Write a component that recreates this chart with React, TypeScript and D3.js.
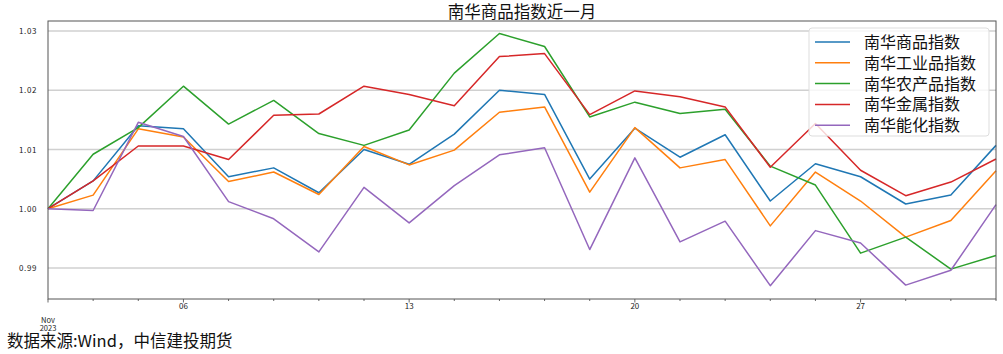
import React, { useEffect, useRef } from 'react';
import * as d3 from 'd3';

// business days of Nov 2023
const dates = [
  '2023-11-01', '2023-11-02', '2023-11-03', '2023-11-06', '2023-11-07', '2023-11-08',
  '2023-11-09', '2023-11-10', '2023-11-13', '2023-11-14', '2023-11-15', '2023-11-16',
  '2023-11-17', '2023-11-20', '2023-11-21', '2023-11-22', '2023-11-23', '2023-11-24',
  '2023-11-27', '2023-11-28', '2023-11-29', '2023-11-30',
];

const seriesNames = ['南华商品指数', '南华工业品指数', '南华农产品指数', '南华金属指数', '南华能化指数'];
const colors = ['#1f77b4', '#ff7f0e', '#2ca02c', '#d62728', '#9467bd'];

const commodity = [1.0, 1.0047, 1.014, 1.0135, 1.0054, 1.0069, 1.0027, 1.01, 1.0075, 1.0126, 1.02, 1.0193,
  1.005, 1.0136, 1.0087, 1.0125, 1.0013, 1.0076, 1.0054, 1.0008, 1.0023, 1.0107];
const industrial = [1.0, 1.0023, 1.0135, 1.0121, 1.0046, 1.0062, 1.0024, 1.0105, 1.0074, 1.0099, 1.0163, 1.0172,
  1.0028, 1.0137, 1.0069, 1.0083, 0.9971, 1.0062, 1.0013, 0.9952, 0.998, 1.0064];
const agri = [1.0, 1.0092, 1.0137, 1.0207, 1.0143, 1.0183, 1.0127, 1.0107, 1.0133, 1.0229, 1.0296, 1.0274,
  1.0155, 1.018, 1.0161, 1.0168, 1.0072, 1.004, 0.9925, 0.9952, 0.9898, 0.9921];
const metals = [1.0, 1.0047, 1.0106, 1.0106, 1.0083, 1.0158, 1.016, 1.0207, 1.0193, 1.0174, 1.0257, 1.0262,
  1.0159, 1.0199, 1.0189, 1.0172, 1.007, 1.0144, 1.0065, 1.0022, 1.0045, 1.0084];
const energyChem = [1.0, 0.9997, 1.0146, 1.0122, 1.0012, 0.9983, 0.9927, 1.0036, 0.9976, 1.0039, 1.0091, 1.0103,
  0.9931, 1.0086, 0.9944, 0.9979, 0.987, 0.9963, 0.9942, 0.9871, 0.9896, 1.0007];

const yTicks = [0.99, 1.0, 1.01, 1.02, 1.03];
const xMajor = ['2023-11-06', '2023-11-13', '2023-11-20', '2023-11-27'];

const App = () => {
  const svgRef = useRef(null);

  useEffect(() => {
    const width = 1003;
    const height = 354;
    const margin = { top: 21, right: 7, bottom: 55, left: 48 };
    const innerW = width - margin.left - margin.right;
    const innerH = height - margin.top - margin.bottom;
    const font = '"Noto Sans CJK SC", "DejaVu Sans", sans-serif';

    const svg = d3.select(svgRef.current);
    svg.selectAll('*').remove();
    svg.attr('width', width).attr('height', height);

    const allSeries = [commodity, industrial, agri, metals, energyChem];

    const x = d3.scalePoint().domain(dates).range([0, innerW]);
    const y = d3.scaleLinear().domain([0.98475, 1.03171]).range([innerH, 0]);

    svg.append('text')
      .attr('x', margin.left + innerW / 2)
      .attr('y', 18)
      .attr('text-anchor', 'middle')
      .style('font-family', font)
      .style('font-size', '16.5px')
      .attr('fill', '#111')
      .text('南华商品指数近一月');

    const g = svg.append('g').attr('transform', `translate(${margin.left},${margin.top})`);

    // grid
    g.selectAll('.grid')
      .data(yTicks)
      .enter()
      .append('line')
      .attr('x1', 0)
      .attr('x2', innerW)
      .attr('y1', d => y(d))
      .attr('y2', d => y(d))
      .attr('stroke', '#d0d0d0')
      .attr('stroke-width', 1.5);

    // y labels
    g.selectAll('.ylab')
      .data(yTicks)
      .enter()
      .append('text')
      .attr('x', -11)
      .attr('y', d => y(d) + 3)
      .attr('text-anchor', 'end')
      .style('font-family', font)
      .style('font-size', '8px')
      .style('letter-spacing', '0.6px')
      .attr('fill', '#222')
      .text(d => d3.format('.2f')(d));

    // x ticks (every business day), labels on mondays
    g.selectAll('.xtick')
      .data(dates)
      .enter()
      .append('line')
      .attr('x1', d => x(d))
      .attr('x2', d => x(d))
      .attr('y1', innerH)
      .attr('y2', d => innerH + (xMajor.includes(d) || d === dates[0] ? 3.5 : 2))
      .attr('stroke', '#444')
      .attr('stroke-width', 0.8);

    g.selectAll('.xlab')
      .data(xMajor)
      .enter()
      .append('text')
      .attr('x', d => x(d))
      .attr('y', innerH + 10)
      .attr('text-anchor', 'middle')
      .style('font-family', font)
      .style('font-size', '8px')
      .attr('fill', '#222')
      .text(d => d.slice(8));

    // first date label, two lines
    ['Nov', '2023'].forEach((t, i) => {
      g.append('text')
        .attr('x', x(dates[0]))
        .attr('y', innerH + 23.5 + i * 8.5)
        .attr('text-anchor', 'middle')
        .style('font-family', font)
        .style('font-size', '7.5px')
        .attr('fill', '#222')
        .text(t);
    });

    // lines
    const line = d3.line()
      .x((d, i) => x(dates[i]))
      .y(d => y(d));

    allSeries.forEach((s, i) => {
      g.append('path')
        .datum(s)
        .attr('fill', 'none')
        .attr('stroke', colors[i])
        .attr('stroke-width', 1.5)
        .attr('stroke-linejoin', 'round')
        .attr('d', line);
    });

    // frame
    g.append('rect')
      .attr('x', 0)
      .attr('y', 0)
      .attr('width', innerW)
      .attr('height', innerH)
      .attr('fill', 'none')
      .attr('stroke', '#555')
      .attr('stroke-width', 1);

    // legend
    const lg = svg.append('g').attr('transform', 'translate(809,28)');
    lg.append('rect')
      .attr('width', 180)
      .attr('height', 108)
      .attr('rx', 3)
      .attr('fill', 'white')
      .attr('fill-opacity', 0.8)
      .attr('stroke', '#ddd');

    const items = lg.selectAll('.item')
      .data(seriesNames)
      .enter()
      .append('g')
      .attr('transform', (d, i) => `translate(0,${14 + i * 20.8})`);

    items.append('line')
      .attr('x1', 6)
      .attr('x2', 41)
      .attr('stroke', (d, i) => colors[i])
      .attr('stroke-width', 1.5);

    items.append('text')
      .attr('x', 55)
      .attr('y', 6)
      .style('font-family', font)
      .style('font-size', '16px')
      .attr('fill', '#111')
      .text(d => d);

    // source
    svg.append('text')
      .attr('x', 7)
      .attr('y', 347)
      .style('font-family', font)
      .style('font-size', '16.5px')
      .attr('fill', '#111')
      .text('数据来源:Wind，中信建投期货');
  }, []);

  return (
    <svg ref={svgRef} style={{ position: 'absolute', left: 0, top: 0 }}></svg>
  );
};

export default App;
